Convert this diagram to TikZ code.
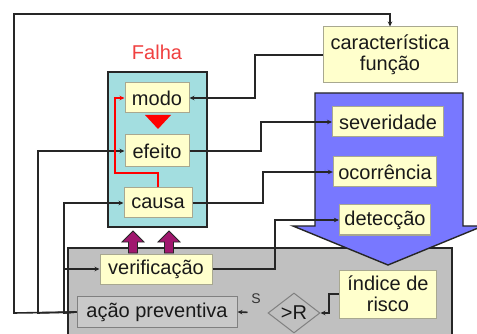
\documentclass[tikz,border=0pt]{standalone}
\usepackage{fontspec}
\setmainfont{Liberation Sans}
\usetikzlibrary{arrows.meta,shapes.geometric}
\definecolor{boxfill}{HTML}{FFFFCC}
\definecolor{boxline}{HTML}{A8A890}
\definecolor{falhafill}{HTML}{A3DEE0}
\definecolor{arrowblue}{HTML}{7878FF}
\definecolor{blockgray}{HTML}{C0C0C0}
\definecolor{upmagenta}{HTML}{A0176E}
\definecolor{wirecol}{HTML}{262626}
\definecolor{falhared}{HTML}{F04040}

\begin{document}
\begin{tikzpicture}[x=1pt, y=-1pt,
    item/.style={draw=boxline, fill=boxfill, line width=1pt, font=\fontsize{20}{21}\selectfont, text=black!90, inner xsep=5pt, inner ysep=0pt, minimum height=30pt, align=center},
    wire/.style={draw=wirecol, line width=1.6pt, -{Stealth[length=5pt,width=4.5pt]}},
    outline/.style={draw=wirecol, line width=1.4pt}]
                \clip (0,0) rectangle (477,334);
                \fill[white] (0,0) rectangle (477,334);
                \filldraw[outline, fill=blockgray] (68,248) rectangle (452,345);
                \filldraw[outline, fill=arrowblue] (315,93) -- (463,93) -- (463,226) -- (483,226) -- (388,265) -- (293,226) -- (315,226) -- cycle;
                \filldraw[outline, fill=falhafill] (108,72) rectangle (207,227);
                \foreach \cx in {133,169}
                  \filldraw[draw=wirecol, line width=0.8pt, fill=upmagenta] (\cx,231) -- (\cx+11,242) -- (\cx+4.5,242) -- (\cx+4.5,253) -- (\cx-4.5,253) -- (\cx-4.5,242) -- (\cx-11,242) -- cycle;
                \fill[red] (145,115) -- (171,115) -- (158,129) -- cycle;
                \node[text=falhared, font=\fontsize{20}{21}\selectfont] (falha) at (157,52) {Falha};
                \node[item, minimum width=64pt] (modo) at (157,98) {modo};
                \node[item, minimum width=64pt, minimum height=32pt] (efeito) at (157,151) {efeito};
                \node[item, minimum width=68pt] (causa) at (158,203) {causa};
                \node[item, minimum width=112pt] (verif) at (156,269) {verificação};
                \node[item, draw=gray, fill=blockgray!85!white, minimum width=160pt, minimum height=31pt] (acao) at (157,312) {ação preventiva};
                \node[item, minimum width=134pt, minimum height=56pt] (carac) at (390,55) {característica\\função};
                \node[item, minimum width=111pt] (sev) at (388,122) {severidade};
                \node[item, minimum width=100pt] (ocor) at (385,172) {ocorrência};
                \node[item, minimum width=86pt] (detec) at (385,220) {detecção};
                \node[item, minimum width=97pt, minimum height=48pt] (indice) at (388,294) {índice de\\risco};
                \node[shape=diamond, draw=gray, fill=blockgray, line width=1pt, minimum width=52pt, minimum height=40pt, inner sep=0pt, text=black!90, font=\fontsize{20}{21}\selectfont] (maiorR) at (294,313) {>R};
                \node[text=black!80, font=\fontsize{14}{15}\selectfont] (sim) at (256,299) {S};
                \draw[wire] (acao.west) -- (14,313) -- (14,14) -| (carac.north);
                \draw[wire] (acao.west) -- (38,313) |- (efeito.west);
                \draw[wire] (acao.west) -- (64,313) |- (causa.west);
                \draw[wire] (acao.west) -- (64,313) |- (verif.west);
                \draw[wire] (carac.west) -- (255,55) |- (modo.east);
                \draw[wire] (efeito.east) -- (261,151) |- (sev.west);
                \draw[wire] (causa.east) -- (263,203) |- (ocor.west);
                \draw[wire] (verif.east) -- (275,269) |- (detec.west);
                \draw[wire] (indice.west) -- (329,294) |- (maiorR.east);
                \draw[wire, shorten <=20pt] (maiorR.west) -- (acao.east);
                \draw[wire, draw=red, line width=1.3pt] (causa.north) |- (115,173) |- (modo.west);
              \end{tikzpicture}
\end{document}
